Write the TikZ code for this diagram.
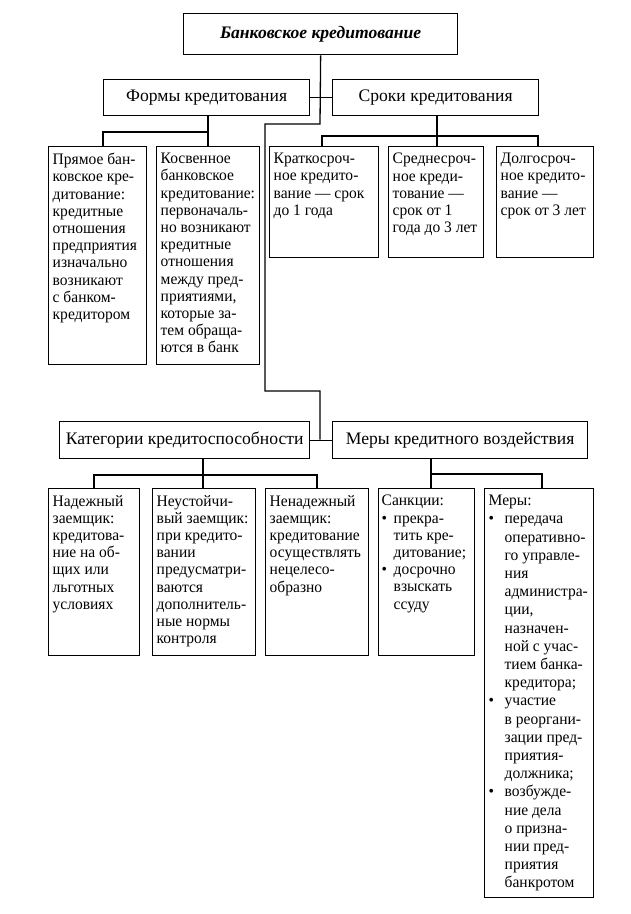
\documentclass[tikz,border=0pt]{standalone}
\usepackage{fontspec}
\setmainfont{Liberation Serif}
\newfontfamily\bodyfam[FakeStretch=0.97]{Liberation Serif}
\newcommand\bodyfont{\bodyfam\fontsize{16}{17.2}\selectfont}
\newcommand\headfont{\fontsize{17.6}{19}\selectfont}
\newcommand\bul{\makebox[12pt][l]{•}}
\newcommand\ind{\hspace*{12pt}}
\newcommand\bulm{\makebox[16pt][l]{•}}
\newcommand\indm{\hspace*{16pt}}
\begin{document}
\begin{tikzpicture}[x=1pt,y=-1pt,
  box/.style={draw, line width=1.3pt, inner sep=0pt, anchor=north west},
  head/.style={box, font=\headfont},
  txt/.style={anchor=north west, align=left, inner sep=0pt, font=\bodyfont},
  conn/.style={line width=1.3pt}]
\useasboundingbox (0,0) rectangle (630,914);
% top level
\node[head, minimum width=274pt, minimum height=41pt, font=\headfont\bfseries\itshape] (top) at (183,13) {Банковское кредитование};
\node[head, minimum width=206pt, minimum height=36pt] (forms) at (103,79) {Формы кредитования};
\node[head, minimum width=206pt, minimum height=36pt] (sroki) at (332,79) {Сроки кредитования};
\node[head, minimum width=250pt, minimum height=37pt] (kat) at (59,421) {Категории кредитоспособности};
\node[head, minimum width=255pt, minimum height=37pt] (mery) at (332,421) {Меры кредитного воздействия};
% forms children
\node[box, minimum width=98pt, minimum height=218pt] (pr) at (48,146) {};
\node[txt] (prt) at ([shift={(4.5,7)}]pr.north west) {Прямое бан-\\ковское кре-\\дитование:\\кредитные\\отношения\\предприятия\\изначально\\возникают\\с банком-\\кредитором};
\node[box, minimum width=103pt, minimum height=218pt] (kos) at (156,146) {};
\node[txt] (kost) at ([shift={(4.5,7)}]kos.north west) {Косвенное\\банковское\\кредитование:\\первоначаль-\\но возникают\\кредитные\\отношения\\между пред-\\приятиями,\\которые за-\\тем обраща-\\ются в банк};
% sroki children
\node[box, minimum width=109pt, minimum height=111pt] (kr) at (269,146) {};
\node[txt] (krt) at ([shift={(4.5,7)}]kr.north west) {Краткосроч-\\ное кредито-\\вание — срок\\до 1 года};
\node[box, minimum width=95pt, minimum height=111pt] (sred) at (388,146) {};
\node[txt] (sredt) at ([shift={(4.5,7)}]sred.north west) {Среднесроч-\\ное креди-\\тование —\\срок от 1\\года до 3 лет};
\node[box, minimum width=97pt, minimum height=111pt] (dol) at (496,146) {};
\node[txt] (dolt) at ([shift={(4.5,7)}]dol.north west) {Долгосроч-\\ное кредито-\\вание —\\срок от 3 лет};
% kat children
\node[box, minimum width=91pt, minimum height=167pt] (nad) at (48,488) {};
\node[txt] (nadt) at ([shift={(4.5,7)}]nad.north west) {Надежный\\заемщик:\\кредитова-\\ние на об-\\щих или\\льготных\\условиях};
\node[box, minimum width=103pt, minimum height=167pt] (neu) at (152,488) {};
\node[txt] (neut) at ([shift={(4.5,7)}]neu.north west) {Неустойчи-\\вый заемщик:\\при кредито-\\вании\\предусматри-\\ваются\\дополнитель-\\ные нормы\\контроля};
\node[box, minimum width=103pt, minimum height=167pt] (nen) at (265,488) {};
\node[txt] (nent) at ([shift={(4.5,7)}]nen.north west) {Ненадежный\\заемщик:\\кредитование\\осуществлять\\нецелесо-\\образно};
% mery children
\node[box, minimum width=96pt, minimum height=167pt] (sank) at (378,488) {};
\node[txt] (sankt) at ([shift={(3.5,7)}]sank.north west) {Санкции:\\\bul прекра-\\\ind тить кре-\\\ind дитование;\\\bul досрочно\\\ind взыскать\\\ind ссуду};
\node[box, minimum width=109pt, minimum height=409pt] (ml) at (484,488) {};
\node[txt, font=\bodyfam\fontsize{16}{18.2}\selectfont] (mlt) at ([shift={(4.5,7)}]ml.north west) {Меры:\\\bulm передача\\\indm оперативно-\\\indm го управле-\\\indm ния\\\indm администра-\\\indm ции,\\\indm назначен-\\\indm ной с учас-\\\indm тием банка-\\\indm кредитора;\\\bulm участие\\\indm в реоргани-\\\indm зации пред-\\\indm приятия-\\\indm должника;\\\bulm возбужде-\\\indm ние дела\\\indm о призна-\\\indm нии пред-\\\indm приятия\\\indm банкротом};
% main spine
\coordinate (c1) at (320,124);
\coordinate (c2) at (265,124);
\coordinate (c3) at (265,391);
\coordinate (c4) at (320,391);
\coordinate (c5) at (320,439.5);
\draw[conn] (top.south) -- (c1) -- (c2) -- (c3) -- (c4) -- (c5);
\draw[conn] (forms.east) -- (sroki.west);
\draw[conn] (kat.east) -- (mery.west);
% forms tree
\coordinate (f1) at (208,132);
\coordinate (f2) at (103,132);
\draw[conn] (forms.south -| f1) -- (f1 |- kos.north);
\draw[conn] (f1) -- (f2) -- (f2 |- pr.north);
% sroki tree
\coordinate (s0) at (437,136);
\coordinate (s1) at (322,136);
\coordinate (s2) at (538,136);
\draw[conn] (sroki.south -| s0) -- (s0 |- sred.north);
\draw[conn] (s1 |- kr.north) -- (s1) -- (s2) -- (s2 |- dol.north);
% kat tree
\coordinate (k0) at (203,475);
\coordinate (k1) at (94,475);
\coordinate (k2) at (317,475);
\draw[conn] (kat.south -| k0) -- (k0 |- neu.north);
\draw[conn] (k1 |- nad.north) -- (k1) -- (k2) -- (k2 |- nen.north);
% mery tree
\coordinate (m0) at (431,474);
\coordinate (m1) at (542,474);
\draw[conn] (mery.south -| m0) -- (m0 |- sank.north);
\draw[conn] (m0) -- (m1) -- (m1 |- ml.north);
\end{tikzpicture}
\end{document}
